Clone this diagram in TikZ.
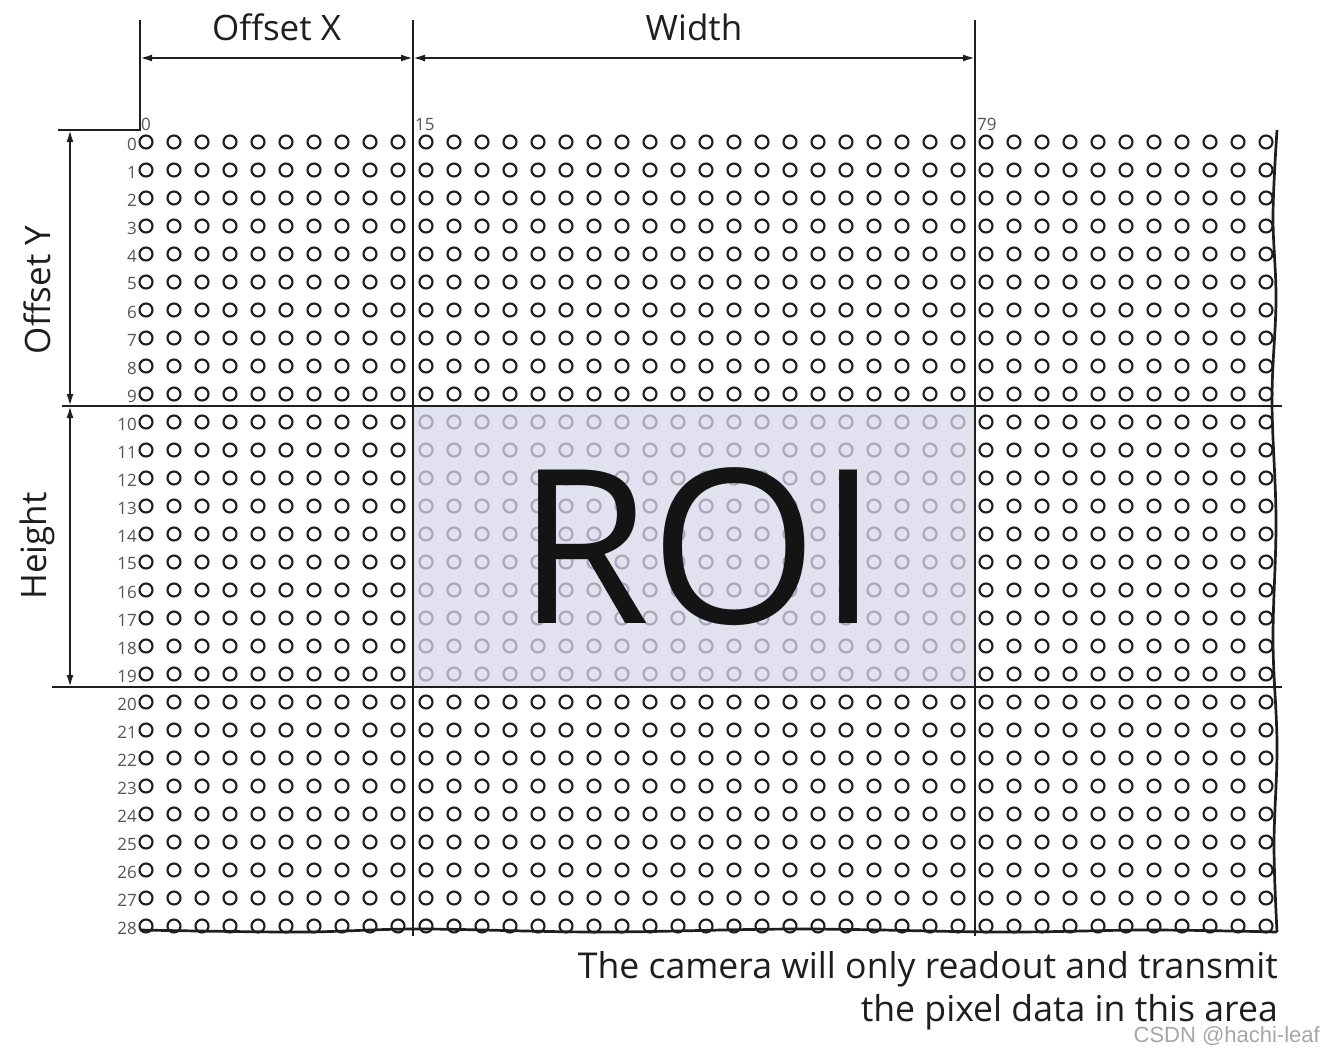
\documentclass[tikz,border=0pt]{standalone}
\usepackage{fontspec}
\setmainfont{Open Sans}
\newfontfamily\wmfont{Liberation Sans}
\usetikzlibrary{arrows.meta}
\definecolor{ink}{HTML}{1E1E1E}
\definecolor{roifill}{HTML}{E2E1EF}
\definecolor{roipix}{HTML}{A9A8B8}
\definecolor{lbl}{HTML}{555555}
\begin{document}
\begin{tikzpicture}[x=1pt,y=-1pt,
  pix/.style={line width=2.1pt},
  rule/.style={draw=ink,line width=2.7pt},
  dim/.style={draw=ink,line width=2pt,{Latex[length=12pt,width=7pt]}-{Latex[length=12pt,width=7pt]}},
  biglbl/.style={font=\fontsize{35}{40}\selectfont,text=ink,inner sep=0pt},
  rowlbl/.style={font=\fontsize{17}{20}\selectfont,text=lbl,inner sep=0pt,anchor=east},
  collbl/.style={font=\fontsize{17}{19}\selectfont,text=lbl,inner sep=0pt,anchor=south west},
  note/.style={font=\fontsize{35.6}{42}\selectfont,text=ink,inner sep=0pt,anchor=base east},
  roibox/.style={fill=roifill,draw=none,minimum width=562pt,minimum height=281pt,inner sep=0pt}]
\useasboundingbox (0,0) rectangle (1324,1053);
\fill[white] (0,0) rectangle (1324,1053);
% ROI area
\node[roibox] (roi) at (694,546.5) {};
% pixels
\foreach \c in {0,...,40}{\foreach \r in {0,...,28}{
  \def\col{ink}
  \ifnum\c>9 \ifnum\c<30 \ifnum\r>9 \ifnum\r<20 \def\col{roipix}\fi\fi\fi\fi
  \draw[pix,draw=\col] (146+28*\c,142+28*\r) circle[radius=6.5];
}}
\node[font=\fontsize{215}{220}\selectfont,text=black!92,inner sep=0pt] (roitxt) at (698,546.5) {ROI};
% row labels
\foreach \r in {0,...,28}{\node[rowlbl] (r\r) at (137,144+28*\r) {\r};}
% column labels
\node[collbl] (c0) at (141,131) {0};
\node[collbl] (c15) at (415,131) {15};
\node[collbl] (c79) at (977,131) {79};
% coordinates
\coordinate (xlt) at (140,20);
\coordinate (corner) at (140,130);
\coordinate (yl) at (58,130);
\coordinate (x15t) at (413,20);
\coordinate (x15b) at (413,936);
\coordinate (x79t) at (975,20);
\coordinate (x79b) at (975,936);
\coordinate (h10l) at (62,406);
\coordinate (h10r) at (1282,406);
\coordinate (h20l) at (52,687);
\coordinate (h20r) at (1282,687);
\coordinate (dx0) at (140,58);
\coordinate (dx1) at (413,58);
\coordinate (dx2) at (975,58);
\coordinate (dy0) at (70,130);
\coordinate (dy1) at (70,406);
\coordinate (dy2) at (70,687);
% grid rules
\draw[rule] (xlt) -- (corner) -- (yl);
\draw[rule] (x15t) -- (x15b);
\draw[rule] (x79t) -- (x79b);
\draw[rule] (h10l) -- (h10r);
\draw[rule] (h20l) -- (h20r);
% torn edges
\draw[rule,line join=round] plot[smooth,tension=0.6] coordinates {(1277,130) (1273,215) (1276,300) (1272,400) (1276,520) (1273,640) (1277,745) (1274,845) (1277,932)};
\draw[rule,line join=round] plot[smooth,tension=0.6] coordinates {(140,930) (300,932) (420,929) (600,932) (800,929) (1000,932) (1150,930) (1277,932)};
% dimensions
\draw[dim] (dx0) -- node[biglbl,above=16pt] (ox) {Offset X} (dx1);
\draw[dim] (dx1) -- node[biglbl,above=16pt] (wd) {Width} (dx2);
\draw[dim] (dy0) -- (dy1);
\draw[dim] (dy1) -- (dy2);
\node[biglbl,rotate=90] (oy) at (37,290) {Offset Y};
\node[biglbl,rotate=90] (hlab) at (37,546) {Height};
% note
\node[note] (n1) at (1278,978) {The camera will only readout and transmit};
\node[note] (n2) at (1278,1021) {the pixel data in this area};
\node[font=\wmfont\fontsize{22}{24}\selectfont,text=black!35,inner sep=0pt,anchor=base east] (wm) at (1320,1042) {CSDN @hachi-leaf};
\end{tikzpicture}
\end{document}
